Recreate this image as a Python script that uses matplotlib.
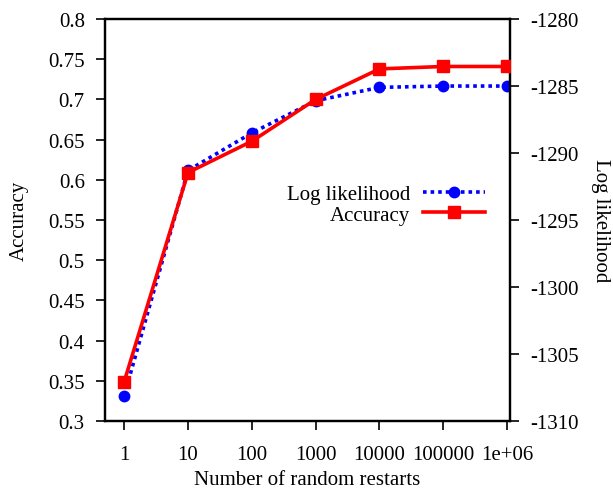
import matplotlib
matplotlib.use("Agg")
import matplotlib.pyplot as plt

plt.rcParams['font.family'] = ['Liberation Serif', 'DejaVu Serif']
plt.rcParams['font.size'] = 15
plt.rcParams['axes.unicode_minus'] = False

# data
restarts = [1, 10, 100, 1000, 10000, 100000, 1000000]
tick_labels = ["1", "10", "100", "1000", "10000", "100000", "1e+06"]
accuracy = [0.349, 0.609, 0.648, 0.700, 0.738, 0.741, 0.741]
log_lik = [-1308.1, -1291.3, -1288.5, -1286.1, -1285.1, -1285.0, -1285.0]

fig = plt.figure(figsize=(6.13, 4.89), dpi=100)
ax = fig.add_axes([0.1713, 0.137, 0.661, 0.822])
ax2 = ax.twinx()

l_acc, = ax.plot(restarts, accuracy, color='red', lw=2.6, marker='s', ms=8.5,
                 label='Accuracy', zorder=3)
l_ll, = ax2.plot(restarts, log_lik, color='blue', lw=2.6, ls=(0, (1, 1.1)),
                 marker='o', ms=7.5, label='Log likelihood', zorder=2)
ax.set_zorder(ax2.get_zorder() + 1)
ax.patch.set_visible(False)

ax.set_xscale('log')
ax.set_xlim(0.5, 1.12e6)
ax.set_xticks(restarts)
ax.set_xticklabels(tick_labels)
ax.xaxis.set_minor_locator(matplotlib.ticker.NullLocator())

ax.set_ylim(0.3, 0.8)
ax.set_yticks([0.3, 0.35, 0.4, 0.45, 0.5, 0.55, 0.6, 0.65, 0.7, 0.75, 0.8])
ax.set_yticklabels(["0.3", "0.35", "0.4", "0.45", "0.5", "0.55", "0.6",
                    "0.65", "0.7", "0.75", "0.8"])
ax2.set_ylim(-1310, -1280)
ax2.set_yticks([-1310, -1305, -1300, -1295, -1290, -1285, -1280])

for a in (ax, ax2):
    a.tick_params(direction='out', length=6.5, width=1.2, pad=8, colors='black')
    for s in a.spines.values():
        s.set_linewidth(1.6)
ax.tick_params(axis='x', pad=11)

ax.set_xlabel("Number of random restarts", labelpad=4)
ax.set_ylabel("Accuracy", labelpad=14)
ax2.set_ylabel("Log likelihood", rotation=-90, labelpad=22)

leg = ax.legend([l_ll, l_acc], ['Log likelihood', 'Accuracy'],
                loc='upper right', bbox_to_anchor=(0.985, 0.635),
                frameon=False, markerfirst=False, handlelength=3.0,
                handletextpad=0.6, labelspacing=0.05, fontsize=15)

fig.savefig("out.png", dpi=100)
